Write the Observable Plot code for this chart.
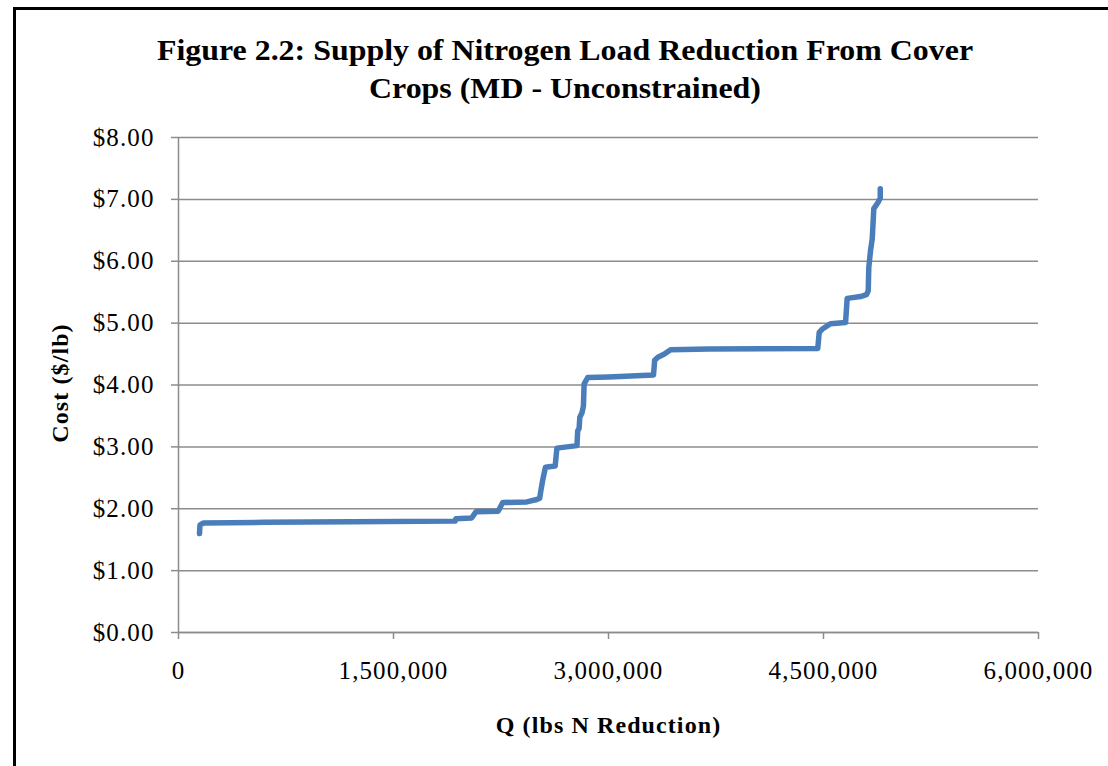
<!DOCTYPE html>
<html>
<head>
<meta charset="utf-8">
<script src="https://cdn.jsdelivr.net/npm/d3@7"></script>
<script src="https://cdn.jsdelivr.net/npm/@observablehq/plot@0.6"></script>
<style>
  html, body { margin: 0; padding: 0; background: #fff; }
  #wrap { position: relative; width: 1108px; height: 766px; overflow: hidden; }
  #frame { position: absolute; left: 13px; top: 7px; width: 1200px; height: 900px; border: 3px solid #000; box-sizing: border-box; }
  #title { position: absolute; left: 0; top: 31px; width: 1130px; text-align: center;
           font-family: "Liberation Serif", "Times New Roman", serif; font-weight: bold;
           font-size: 29px; line-height: 38px; color: #000;
           transform: scaleX(1.1); transform-origin: 565px 0; }
  #chart { position: absolute; left: 0; top: 0; }
  #chart svg text { letter-spacing: 1.1px; }
  #chart svg text.ylab { letter-spacing: 0; }
</style>
</head>
<body>
<div id="wrap">
  <div id="frame"></div>
  <div id="chart"></div>
  <div id="title">Figure 2.2: Supply of Nitrogen Load Reduction From Cover<br>Crops (MD - Unconstrained)</div>
</div>
<script>
// Supply curve
const quantity = [146500, 150000, 175000, 600000, 1200000, 1930000, 1935000, 2045000, 2075000, 2230000,
  2262000, 2430000, 2500000, 2520000, 2528000, 2540000, 2560000, 2628000, 2640000, 2780000,
  2785000, 2795000, 2800000, 2815000, 2825000, 2830000, 2855000, 3000000, 3314000, 3322000,
  3345000, 3390000, 3433000, 3700000, 4460000, 4470000, 4490000, 4549000, 4654000, 4665000,
  4758000, 4800000, 4812000, 4816000, 4828000, 4840000, 4851000, 4880000, 4896000, 4896000];
const cost = [1.60, 1.74, 1.77, 1.78, 1.79, 1.80, 1.84, 1.85, 1.95, 1.96,
  2.10, 2.11, 2.15, 2.17, 2.29, 2.45, 2.67, 2.69, 2.98, 3.02,
  3.26, 3.30, 3.48, 3.55, 3.66, 4.02, 4.12, 4.13, 4.16, 4.40,
  4.45, 4.50, 4.57, 4.58, 4.59, 4.85, 4.90, 4.99, 5.01, 5.40,
  5.43, 5.46, 5.52, 5.90, 6.17, 6.36, 6.85, 6.95, 7.02, 7.17];
const xTicks = [0, 1500000, 3000000, 4500000, 6000000];
const yTicks = [0, 1, 2, 3, 4, 5, 6, 7, 8];
const xLabel = "Q (lbs N Reduction)";
const yLabel = "Cost ($/lb)";

const data = quantity.map((q, i) => ({q, c: cost[i]}));
const gray = "#8c8c8c";

const chart = Plot.plot({
  width: 1108,
  height: 766,
  marginLeft: 178,
  marginRight: 70,
  marginTop: 137,
  marginBottom: 134,
  style: {fontFamily: "Liberation Serif, Times New Roman, serif", fontSize: "25px", color: "#000", background: "transparent", overflow: "visible"},
  x: {domain: [0, 6000000]},
  y: {domain: [0, 8]},
  marks: [
    Plot.gridY(yTicks, {stroke: gray, strokeOpacity: 1, strokeWidth: 1.5}),
    Plot.ruleX([0], {stroke: gray, strokeWidth: 1.5}),
    Plot.ruleY([0], {stroke: gray, strokeWidth: 1.5}),
    Plot.axisY(yTicks, {tickSize: 7, tickPadding: 17, stroke: gray, strokeWidth: 1.5, label: null,
      tickFormat: d => "$" + d.toFixed(2), fill: "#000"}),
    Plot.axisX(xTicks, {tickSize: 7, tickPadding: 22, stroke: gray, strokeWidth: 1.5, label: null,
      tickFormat: d3.format(","), fill: "#000"}),
    Plot.line(data, {x: "q", y: "c", stroke: "#4a7ebb", strokeWidth: 5.5, strokeLinecap: "round", strokeLinejoin: "round"}),
    Plot.text([yLabel], {text: d => d, frameAnchor: "left", textAnchor: "middle", dx: -118, dy: -2, rotate: -90,
      fontWeight: "bold", fontSize: 24, fill: "#000", className: "ylab"}),
    Plot.text([xLabel], {text: d => d, frameAnchor: "bottom", dy: 100, fontWeight: "bold", fontSize: 24, fill: "#000"})
  ]
});
document.getElementById("chart").appendChild(chart);
</script>
</body>
</html>
